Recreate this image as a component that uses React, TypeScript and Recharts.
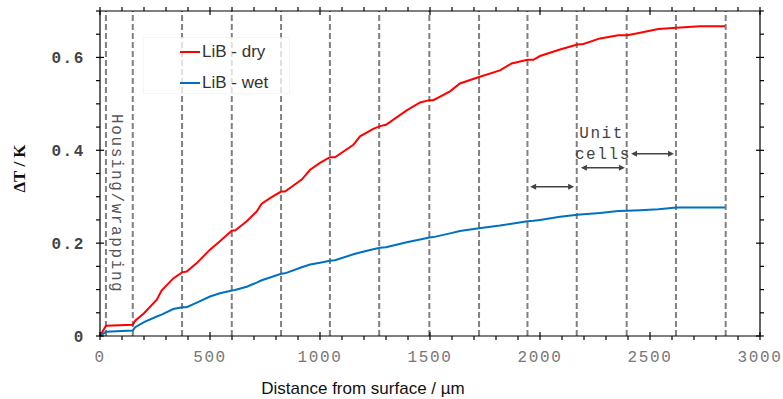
import React from 'react';
import { LineChart, Line, XAxis, YAxis, ReferenceLine, ReferenceDot, Legend } from 'recharts';

// distance from surface (µm) and temperature rise (K)
const distance = [
  0, 27, 149, 160, 200, 258, 280, 333, 373, 394, 440, 500, 545, 600, 614, 667, 712, 735, 773, 823,
  841, 917, 955, 1000, 1045, 1068, 1152, 1182, 1242, 1273, 1300, 1394, 1455, 1497, 1515, 1591, 1636,
  1723, 1818, 1871, 1943, 1970, 2000, 2091, 2170, 2197, 2273, 2356, 2397, 2455, 2538, 2621, 2727, 2841,
];
const dry = [
  0, 0.022, 0.024, 0.033, 0.049, 0.078, 0.098, 0.124, 0.137, 0.139, 0.157, 0.186, 0.204, 0.227, 0.227,
  0.247, 0.268, 0.285, 0.297, 0.311, 0.311, 0.337, 0.358, 0.373, 0.385, 0.385, 0.412, 0.43, 0.446, 0.452,
  0.455, 0.486, 0.503, 0.508, 0.508, 0.527, 0.544, 0.558, 0.572, 0.587, 0.595, 0.595, 0.603, 0.617, 0.628,
  0.629, 0.641, 0.648, 0.648, 0.653, 0.661, 0.664, 0.667, 0.667,
];
const wet = [
  0, 0.009, 0.012, 0.019, 0.03, 0.042, 0.046, 0.058, 0.062, 0.062, 0.072, 0.085, 0.092, 0.098, 0.099,
  0.106, 0.115, 0.12, 0.126, 0.134, 0.135, 0.148, 0.154, 0.158, 0.162, 0.163, 0.176, 0.18, 0.187, 0.19,
  0.191, 0.202, 0.208, 0.212, 0.213, 0.221, 0.226, 0.232, 0.238, 0.242, 0.247, 0.248, 0.25, 0.257, 0.261,
  0.262, 0.265, 0.269, 0.27, 0.271, 0.273, 0.277, 0.277, 0.277,
];

const seriesNames = ['LiB - dry', 'LiB - wet'];
const seriesColors = ['#ff0000', '#0070c0'];

// dashed boundaries: housing, wrapping, then unit cells
const boundaries = [27, 149, 373, 599, 823, 1045, 1269, 1497, 1723, 1943, 2167, 2394, 2618, 2844];

const xMax = 3000;
const yMax = 0.7;
const xTicks = [
  0, 100, 200, 300, 400, 500, 600, 700, 800, 900, 1000, 1100, 1200, 1300, 1400, 1500, 1600, 1700, 1800,
  1900, 2000, 2100, 2200, 2300, 2400, 2500, 2600, 2700, 2800, 2900, 3000,
];
const yTicks = [0, 0.05, 0.1, 0.15, 0.2, 0.25, 0.3, 0.35, 0.4, 0.45, 0.5, 0.55, 0.6, 0.65, 0.7];

// annotations in data units
const arrowSpans = [
  { from: 1955, to: 2155, y: 0.3215 },
  { from: 2186, to: 2386, y: 0.3625 },
  { from: 2414, to: 2609, y: 0.3927 },
];
const notes = [
  { text: 'Unit', x: 2280, y: 0.427 },
  { text: 'cells', x: 2286, y: 0.382 },
];
const housingNote = { text: 'Housing/wrapping', x: 82, y: 0.285 };

const data = distance.map((d, i) => ({ d, dry: dry[i], wet: wet[i] }));

// chart layout
const W = 783;
const H = 399;
const margin = { top: 11, right: 23, left: 0, bottom: 0 };
const yAxisW = 100;
const xAxisH = 63;
const plotW = W - margin.left - margin.right - yAxisW;
const plotH = H - margin.top - margin.bottom - xAxisH;

const mono = '"Liberation Mono", "DejaVu Sans Mono", monospace';
const sans = '"Liberation Sans", Arial, sans-serif';

const isMajorX = (v: number) => v % 500 === 0;
const isMajorY = (v: number) => Math.round(v * 100) % 20 === 0;

// bottom ticks also mirror onto the top edge; the last one closes the right side of the frame
const BottomTick = ({ x, y, payload }: any) => {
  const v = payload.value;
  const major = isMajorX(v);
  const top = y - plotH;
  return (
    <g>
      <line x1={x} x2={x} y1={major ? y - 4 : y} y2={y + 4} stroke="#000" strokeWidth={1.2} />
      <line x1={x} x2={x} y1={top - 4} y2={major ? top + 4 : top} stroke="#000" strokeWidth={1.2} />
      {v === xMax && <line x1={x} x2={x} y1={top} y2={y} stroke="#000" strokeWidth={1.2} />}
      {major && (
        <text x={x} y={y + 26} textAnchor="middle" fontFamily={mono} fontSize={16} letterSpacing={1.6} fill="#777">
          {v}
        </text>
      )}
    </g>
  );
};

// left ticks also mirror onto the right edge; the top one closes the top of the frame
const LeftTick = ({ x, y, payload }: any) => {
  const v = payload.value;
  const major = isMajorY(v);
  const right = x + plotW;
  return (
    <g>
      <line x1={x - 4} x2={major ? x + 4 : x} y1={y} y2={y} stroke="#000" strokeWidth={1.2} />
      <line x1={major ? right - 4 : right} x2={right + 4} y1={y} y2={y} stroke="#000" strokeWidth={1.2} />
      {v === yMax && <line x1={x} x2={right} y1={y} y2={y} stroke="#000" strokeWidth={1.2} />}
      {major && (
        <text x={x - 15} y={y} dy="0.36em" textAnchor="end" fontFamily={mono} fontSize={16} fontWeight="bold" letterSpacing={1.6} fill="#444">
          {v === 0 ? '0' : v.toFixed(1)}
        </text>
      )}
    </g>
  );
};

const Arrow = (p: any) => {
  const { x1, x2, y1 } = p;
  const h = 6;
  const w = 3;
  return (
    <g>
      <line x1={x1 + 2} x2={x2 - 2} y1={y1} y2={y1} stroke="#444" strokeWidth={1.4} />
      <polygon points={`${x1},${y1} ${x1 + h},${y1 - w} ${x1 + h},${y1 + w}`} fill="#444" />
      <polygon points={`${x2},${y1} ${x2 - h},${y1 - w} ${x2 - h},${y1 + w}`} fill="#444" />
    </g>
  );
};

const LegendBox = () => (
  <div
    style={{
      width: 147,
      height: 57,
      boxSizing: 'border-box',
      background: 'rgba(255,255,255,0.75)',
      border: '1px solid rgba(0,0,0,0.04)',
      fontFamily: sans,
      fontSize: 17,
      color: '#333',
      paddingTop: 4,
    }}
  >
    {seriesNames.map((n, i) => (
      <div key={n} style={{ display: 'flex', alignItems: 'center', height: 31, marginTop: i === 0 ? -6 : 0 }}>
        <span style={{ display: 'inline-block', width: 20, height: 2, background: seriesColors[i], marginLeft: 36, marginRight: 2 }} />
        <span>{n}</span>
      </div>
    ))}
  </div>
);

export default function App() {
  return (
    <div>
      <style>{'body{margin:0}'}</style>
      <LineChart width={W} height={H} data={data} margin={margin}>
        <XAxis
          dataKey="d"
          type="number"
          domain={[0, xMax]}
          ticks={xTicks}
          interval={0}
          height={xAxisH}
          tickSize={0}
          tickMargin={0}
          tickLine={false}
          tick={<BottomTick />}
          axisLine={{ stroke: '#000', strokeWidth: 1.2 }}
          label={{
            content: ({ viewBox }: any) => (
              <text x={viewBox.x + 263} y={viewBox.y + 58} textAnchor="middle" fontFamily={sans} fontSize={17} fill="#111">
                Distance from surface / µm
              </text>
            ),
          }}
        />
        <YAxis
          type="number"
          domain={[0, yMax]}
          ticks={yTicks}
          interval={0}
          width={yAxisW}
          tickSize={0}
          tickMargin={0}
          tickLine={false}
          tick={<LeftTick />}
          axisLine={{ stroke: '#000', strokeWidth: 1.2 }}
          label={{
            content: ({ viewBox }: any) => {
              const cx = viewBox.x + 19;
              const cy = viewBox.y + viewBox.height / 2 - 5;
              return (
                <text x={cx} y={cy} transform={`rotate(-90 ${cx} ${cy})`} textAnchor="middle" dy="0.35em" fontFamily='"Liberation Serif", serif' fontWeight="bold" fontSize={17} fill="#111">
                  ΔT / K
                </text>
              );
            },
          }}
        />
        <Legend layout="vertical" align="center" verticalAlign="middle" content={<LegendBox />} wrapperStyle={{ left: 143, top: 37, width: 147, height: 57 }} />
        {boundaries.map((b) => (
          <ReferenceLine key={b} x={b} stroke="#808080" strokeWidth={2} strokeDasharray="6 3" />
        ))}
        <Line dataKey="dry" name={seriesNames[0]} type="linear" stroke={seriesColors[0]} strokeWidth={2} dot={false} isAnimationActive={false} />
        <Line dataKey="wet" name={seriesNames[1]} type="linear" stroke={seriesColors[1]} strokeWidth={2} dot={false} isAnimationActive={false} />
        {arrowSpans.map((a) => (
          <ReferenceLine
            key={a.from}
            segment={[
              { x: a.from, y: a.y },
              { x: a.to, y: a.y },
            ]}
            shape={(p: any) => <Arrow {...p} />}
          />
        ))}
        {notes.map((n) => (
          <ReferenceDot
            key={n.text}
            x={n.x}
            y={n.y}
            r={0}
            shape={(p: any) => (
              <text x={p.cx} y={p.cy} textAnchor="middle" fontFamily={mono} fontSize={16} letterSpacing={1.6} fill="#444">
                {n.text}
              </text>
            )}
          />
        ))}
        <ReferenceDot
          x={housingNote.x}
          y={housingNote.y}
          r={0}
          shape={(p: any) => (
            <text x={p.cx} y={p.cy} dy="0.35em" transform={`rotate(90 ${p.cx} ${p.cy})`} textAnchor="middle" fontFamily={mono} fontSize={16} letterSpacing={1.6} fill="#555">
              {housingNote.text}
            </text>
          )}
        />
      </LineChart>
    </div>
  );
}
